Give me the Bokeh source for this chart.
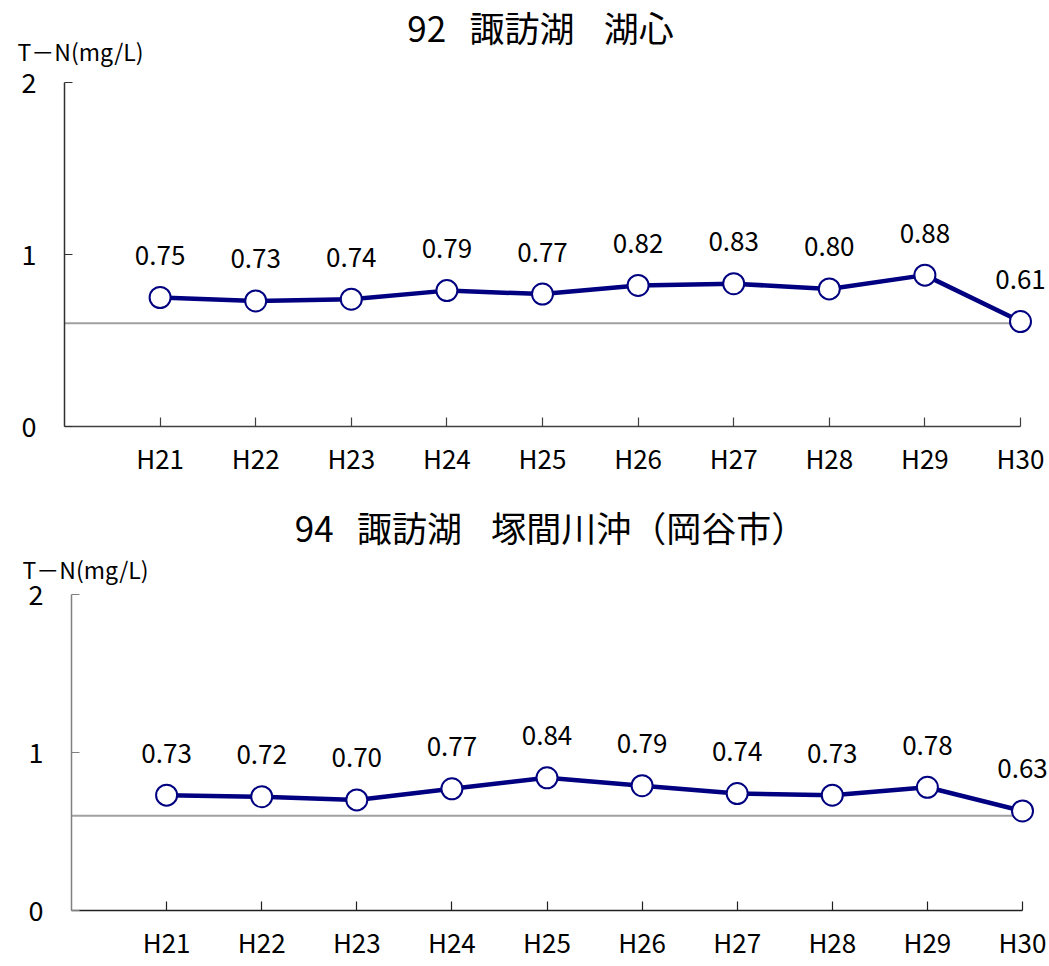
from bokeh.plotting import figure
from bokeh.models import ColumnDataSource, FixedTicker, Label, LabelSet, Range1d
from bokeh.layouts import column
from bokeh.core.properties import value
from bokeh.embed import file_html
from bokeh.resources import INLINE

# ---- data ----
categories = ["H21", "H22", "H23", "H24", "H25", "H26", "H27", "H28", "H29", "H30"]
tn_92 = [0.75, 0.73, 0.74, 0.79, 0.77, 0.82, 0.83, 0.80, 0.88, 0.61]
tn_94 = [0.73, 0.72, 0.70, 0.77, 0.84, 0.79, 0.74, 0.73, 0.78, 0.63]
standard = 0.6
y_ticks = [0, 1, 2]
title_92 = "92\u2002\u2006諏訪湖\u2002\u2004湖心"
title_94 = "94\u2002\u2006諏訪湖\u2002\u2004塚間川沖（岡谷市）"
y_label = "T－N(mg/L)"

FONT = "Noto Sans CJK JP"
NAVY = "#000080"
PAGE_LEFT = 0
PAGE_RIGHT = 1049


def make_panel(title, values, canvas_top, canvas_bottom, axis_px, frame_top, frame_bottom,
               last_px, title_cx, title_cy, ylab_x, ylab_cy, yaxis_color, xaxis_color):
    n = len(categories)
    xs = list(range(n))
    unit = (last_px - axis_px) / n
    yunit = (frame_bottom - frame_top) / y_ticks[-1]

    def dx(px):
        return -1 + (px - axis_px) / unit

    def dy(py):
        return y_ticks[-1] + (frame_top - py) / yunit

    p = figure(width=PAGE_RIGHT - PAGE_LEFT, height=canvas_bottom - canvas_top,
               output_backend="svg", toolbar_location=None,
               x_range=Range1d(dx(PAGE_LEFT), dx(PAGE_RIGHT)),
               y_range=Range1d(dy(canvas_bottom), dy(canvas_top)))
    p.min_border = 0
    p.outline_line_color = None
    p.xgrid.grid_line_color = None
    p.ygrid.grid_line_color = None
    p.background_fill_color = "white"
    p.border_fill_color = "white"

    # x axis
    xa = p.xaxis[0]
    xa.fixed_location = 0
    xa.ticker = FixedTicker(ticks=xs)
    xa.major_label_overrides = {i: c for i, c in enumerate(categories)}
    xa.bounds = (-1, n - 1)
    xa.major_tick_in = 9
    xa.major_tick_out = 0
    xa.minor_tick_line_color = None
    xa.axis_line_color = xaxis_color
    xa.axis_line_width = 1.5
    xa.major_tick_line_color = xaxis_color
    xa.major_tick_line_width = 1.2
    xa.major_label_text_font = FONT
    xa.major_label_text_font_size = "26px"
    xa.major_label_text_color = "black"
    xa.major_label_standoff = 12

    # y axis
    ya = p.yaxis[0]
    ya.fixed_location = -1
    ya.ticker = FixedTicker(ticks=y_ticks)
    ya.bounds = (y_ticks[0], y_ticks[-1])
    ya.major_tick_in = 8
    ya.major_tick_out = 0
    ya.minor_tick_line_color = None
    ya.axis_line_color = yaxis_color
    ya.axis_line_width = 1.5
    ya.major_tick_line_color = yaxis_color
    ya.major_tick_line_width = 1.2
    ya.major_label_text_font = FONT
    ya.major_label_text_font_size = "27px"
    ya.major_label_text_color = "black"
    ya.major_label_standoff = 28

    # standard line
    p.segment(x0=[-1], x1=[n - 1], y0=[standard], y1=[standard],
              line_color="#a0a0a0", line_width=2)

    src = ColumnDataSource(dict(x=xs, y=values, lab=[f"{v:.2f}" for v in values]))
    p.line("x", "y", source=src, line_color=NAVY, line_width=4.5)
    p.scatter("x", "y", source=src, size=21, fill_color="white",
              line_color=NAVY, line_width=2)
    p.add_layout(LabelSet(x="x", y="y", text="lab", source=src, y_offset=42,
                          text_align="center", text_baseline="middle",
                          text_font=value(FONT), text_font_size="26px",
                          text_color="black"))

    p.add_layout(Label(x=dx(title_cx), y=dy(title_cy), text=title, text_align="center",
                       text_baseline="middle", text_font=FONT, text_font_size="35px",
                       text_color="black"))
    p.add_layout(Label(x=dx(ylab_x), y=dy(ylab_cy), text=y_label, text_align="left",
                       text_baseline="middle", text_font=FONT, text_font_size="23px",
                       text_color="black"))
    return p


p1 = make_panel(title_92, tn_92, canvas_top=0, canvas_bottom=486, axis_px=64, frame_top=82,
                frame_bottom=426, last_px=1020, title_cx=540, title_cy=26,
                ylab_x=17, ylab_cy=50, yaxis_color="#303030", xaxis_color="#404040")
p2 = make_panel(title_94, tn_94, canvas_top=486, canvas_bottom=966, axis_px=71, frame_top=594,
                frame_bottom=910, last_px=1022, title_cx=550, title_cy=526,
                ylab_x=22, ylab_cy=568, yaxis_color="#808080", xaxis_color="#202020")

layout = column(p1, p2, spacing=0)
open("out.html", "w").write(file_html(layout, INLINE))
